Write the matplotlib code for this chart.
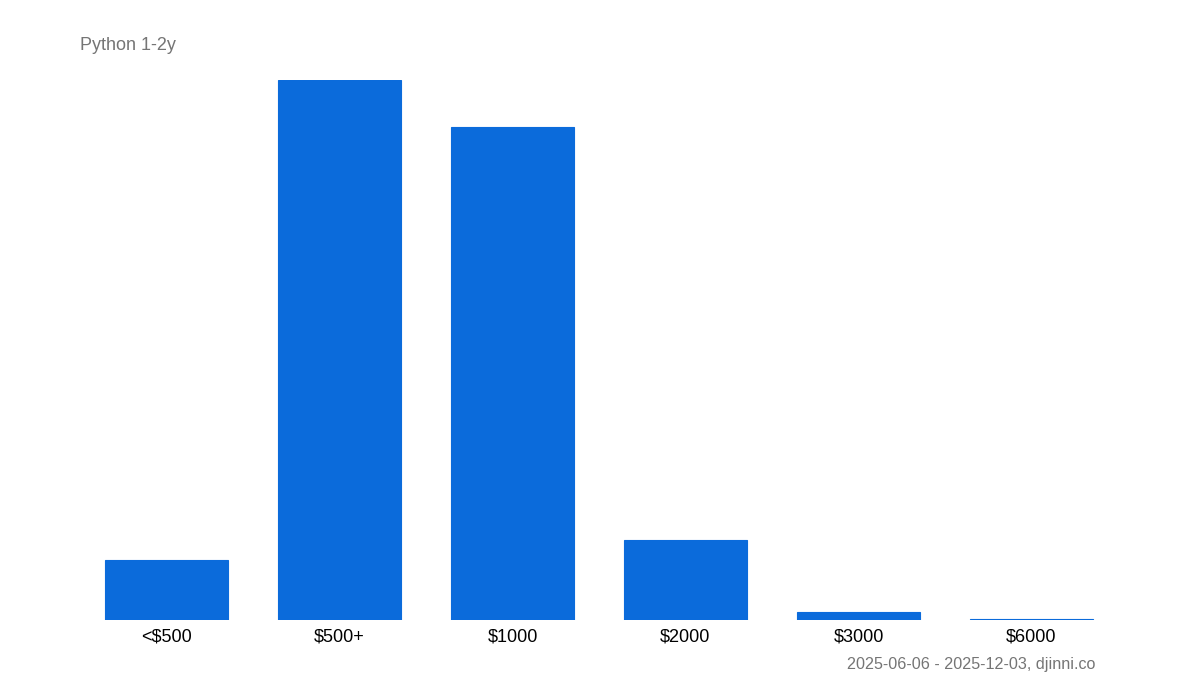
import matplotlib.pyplot as plt

plt.rcParams['font.family'] = ['Liberation Sans', 'DejaVu Sans']

categories = ['<$500', '$500+', '$1000', '$2000', '$3000', '$6000']
counts = [45, 405, 370, 60, 6, 1]

title = 'Python 1-2y'
footer = '2025-06-06 - 2025-12-03, djinni.co'

bar_color = '#0b6bdb'

fig = plt.figure(figsize=(12, 7), dpi=100, facecolor='white')
ax = fig.add_axes([80 / 1200, 80 / 700, 1038 / 1200, 540 / 700])

ax.bar(range(len(categories)), counts, width=0.71, color=bar_color,
       edgecolor=bar_color, linewidth=0.8)
ax.set_xlim(-0.5, len(categories) - 0.5)
ax.set_ylim(0, max(counts))

ax.set_xticks(range(len(categories)))
ax.set_xticklabels(categories, fontsize=13, color='black')
ax.tick_params(axis='x', length=0, pad=6)
ax.set_yticks([])
for s in ax.spines.values():
    s.set_visible(False)

fig.text(80 / 1200, 1 - 45 / 700, title, fontsize=13, color='#757575', ha='left', va='center')
fig.text(1095 / 1200, 1 - 664 / 700, footer, fontsize=11.6, color='#757575', ha='right', va='center')

fig.savefig('out.png', dpi=100, facecolor='white')
